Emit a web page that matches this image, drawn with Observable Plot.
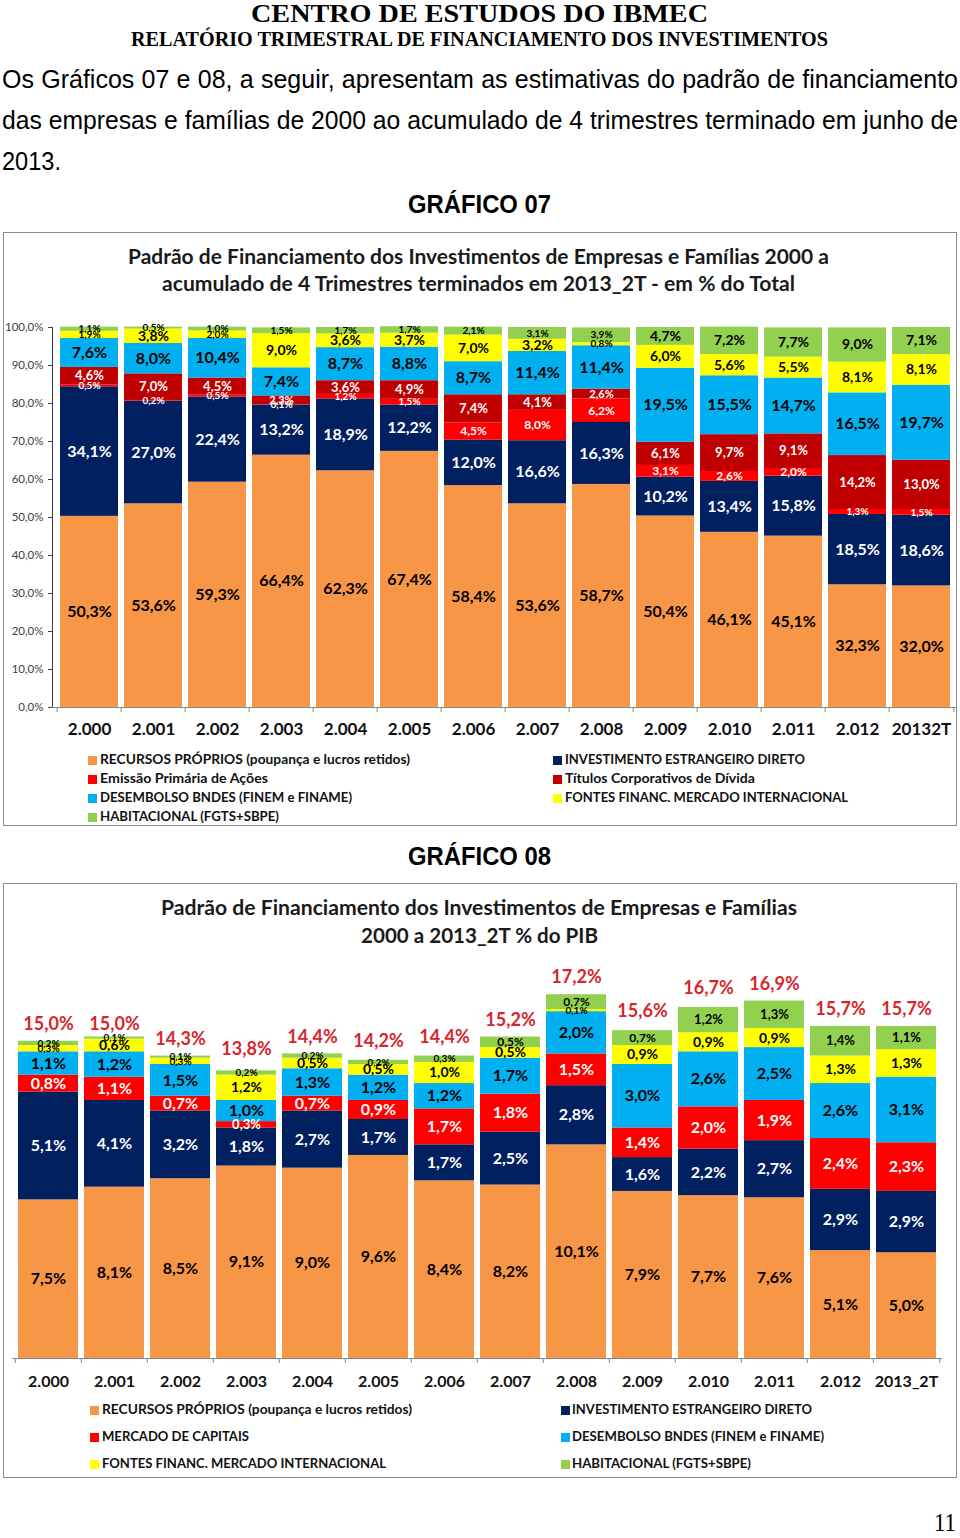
<!DOCTYPE html>
<html><head><meta charset="utf-8">
<script src="https://cdn.jsdelivr.net/npm/d3@7"></script>
<script src="https://cdn.jsdelivr.net/npm/@observablehq/plot@0.6"></script>
<style>
body{margin:0;background:#fff;}
#page{position:relative;width:960px;height:1538px;overflow:hidden;background:#fff;}
.abs{position:absolute;white-space:nowrap;}
.box{position:absolute;border:1.5px solid #8c8c8c;box-sizing:border-box;}
.sw{position:absolute;width:9px;height:9px;}
</style></head>
<body><div id="page"></div>
<script>
// ---------- DATA : GRÁFICO 07 (% do total) ----------
const years1 = ["2.000","2.001","2.002","2.003","2.004","2.005","2.006","2.007","2.008","2.009","2.010","2.011","2.012","20132T"];
const series1 = ["RECURSOS PRÓPRIOS (poupança e lucros retidos)","INVESTIMENTO ESTRANGEIRO DIRETO","Emissão Primária de Ações","Títulos Corporativos de Dívida","DESEMBOLSO BNDES (FINEM e FINAME)","FONTES FINANC. MERCADO INTERNACIONAL","HABITACIONAL (FGTS+SBPE)"];
const recursos1 = [50.3,53.6,59.3,66.4,62.3,67.4,58.4,53.6,58.7,50.4,46.1,45.1,32.3,32.0];
const ied1 = [34.1,27.0,22.4,13.2,18.9,12.2,12.0,16.6,16.3,10.2,13.4,15.8,18.5,18.6];
const acoes1 = [0.5,0.2,0.5,0.1,1.2,1.5,4.5,8.0,6.2,3.1,2.6,2.0,1.3,1.5];
const titulos1 = [4.6,7.0,4.5,2.3,3.6,4.9,7.4,4.1,2.6,6.1,9.7,9.1,14.2,13.0];
const bndes1 = [7.6,8.0,10.4,7.4,8.7,8.8,8.7,11.4,11.4,19.5,15.5,14.7,16.5,19.7];
const internacional1 = [1.9,3.8,2.0,9.0,3.6,3.7,7.0,3.2,0.8,6.0,5.6,5.5,8.1,8.1];
const habitacional1 = [1.1,0.5,1.0,1.5,1.7,1.7,2.1,3.1,3.9,4.7,7.2,7.7,9.0,7.1];
const yTicks1 = [0,10,20,30,40,50,60,70,80,90,100];

// ---------- DATA : GRÁFICO 08 (% do PIB) ----------
const years2 = ["2.000","2.001","2.002","2.003","2.004","2.005","2.006","2.007","2.008","2.009","2.010","2.011","2.012","2013_2T"];
const series2 = ["RECURSOS PRÓPRIOS (poupança e lucros retidos)","INVESTIMENTO ESTRANGEIRO DIRETO","MERCADO DE CAPITAIS","DESEMBOLSO BNDES (FINEM e FINAME)","FONTES FINANC. MERCADO INTERNACIONAL","HABITACIONAL (FGTS+SBPE)"];
const recursos2 = [7.5,8.1,8.5,9.1,9.0,9.6,8.4,8.2,10.1,7.9,7.7,7.6,5.1,5.0];
const ied2 = [5.1,4.1,3.2,1.8,2.7,1.7,1.7,2.5,2.8,1.6,2.2,2.7,2.9,2.9];
const capitais2 = [0.8,1.1,0.7,0.3,0.7,0.9,1.7,1.8,1.5,1.4,2.0,1.9,2.4,2.3];
const bndes2 = [1.1,1.2,1.5,1.0,1.3,1.2,1.2,1.7,2.0,3.0,2.6,2.5,2.6,3.1];
const internacional2 = [0.3,0.6,0.3,1.2,0.5,0.5,1.0,0.5,0.1,0.9,0.9,0.9,1.3,1.3];
const habitacional2 = [0.2,0.1,0.1,0.2,0.2,0.2,0.3,0.5,0.7,0.7,1.2,1.3,1.4,1.1];
const totais2 = [15.0,15.0,14.3,13.8,14.4,14.2,14.4,15.2,17.2,15.6,16.7,16.9,15.7,15.7];

// ---------- STYLES ----------
const colors1 = ["#F79646","#002060","#FF0000","#C00000","#00B0F0","#FFFF00","#92D050"];
const labelFill1 = ["#000","#fff","#fff","#fff","#000","#000","#000"];
const colors2 = ["#F79646","#002060","#FF0000","#00B0F0","#FFFF00","#92D050"];
const labelFill2 = ["#000","#fff","#fff","#000","#000","#000"];

const fmt = v => v.toFixed(1).replace(".", ",") + "%";

function longData(years, series, cols) {
  const out = [];
  series.forEach((s, si) => years.forEach((y, yi) => out.push({year: y, series: s, si, value: cols[si][yi]})));
  return out;
}
const long1 = longData(years1, series1, [recursos1, ied1, acoes1, titulos1, bndes1, internacional1, habitacional1]);
const long2 = longData(years2, series2, [recursos2, ied2, capitais2, bndes2, internacional2, habitacional2]);

function size1(d) {
  const v = d.value;
  switch (d.si) {
    case 0: case 1: case 4: return 16;
    case 2: return v < 2 ? 10 : 12;
    case 3: return v < 3 ? 11 : 13;
    case 5: return v < 3 ? 10 : 14;
    case 6: return v < 4 ? 10 : 14;
  }
}
function size2(d) {
  const v = d.value;
  switch (d.si) {
    case 0: case 1: case 3: return 16;
    case 2: return v < 0.5 ? 13 : 16;
    case 4: return v < 0.4 ? 10 : 14;
    case 5: return v < 0.4 ? 10 : (v < 1 ? 12 : 13);
  }
}

const page = document.getElementById("page");
const fitters = [];
const ASC = {lato: 0.887, lib: 0.846};
function put(text, o) {
  const d = document.createElement("div");
  d.className = "abs";
  d.style.left = o.x + "px";
  d.style.top = (o.base - (o.asc || ASC.lib) * o.size) + "px";
  d.style.font = `${o.weight || "normal"} ${o.size}px ${o.family}`;
  d.style.lineHeight = "1";
  d.style.color = o.color || "#000";
  d.textContent = text;
  page.appendChild(d);
  if (o.w) fitters.push([d, o.w, o.mode]);
  return d;
}
function fitAll() {
  for (const [d, w, mode] of fitters) {
    d.style.transform = ""; d.style.wordSpacing = "";
    const nat = d.getBoundingClientRect().width;
    if (mode === "justify" && nat < w) {
      const spaces = (d.textContent.match(/ /g) || []).length;
      d.style.wordSpacing = ((w - nat) / spaces) + "px";
    } else {
      d.style.transformOrigin = "0 0";
      d.style.transform = `scaleX(${w / nat})`;
    }
  }
}
function box(x, y, w, h) {
  const b = document.createElement("div");
  b.className = "box";
  Object.assign(b.style, {left: x + "px", top: y + "px", width: w + "px", height: h + "px"});
  page.appendChild(b);
}
function swatch(x, yc, color) {
  const s = document.createElement("div");
  s.className = "sw";
  Object.assign(s.style, {left: x + "px", top: (yc - 4.5) + "px", background: color});
  page.appendChild(s);
}
function mount(svg, x, y) {
  const d = document.createElement("div");
  d.className = "abs";
  d.style.left = x + "px"; d.style.top = y + "px";
  d.appendChild(svg);
  page.appendChild(d);
}

const SERIF = '"Liberation Serif", "DejaVu Serif", serif';
const NARROW = '"Liberation Sans Narrow", "Liberation Sans", Arial, sans-serif';
const LATO = 'Lato, "Open Sans", sans-serif';

// ---------- PAGE TEXT ----------
put("CENTRO DE ESTUDOS DO IBMEC", {x: 251, base: 23, size: 26, weight: "bold", family: SERIF, w: 457});
put("RELATÓRIO TRIMESTRAL DE FINANCIAMENTO DOS INVESTIMENTOS", {x: 131, base: 47, size: 21, weight: "bold", family: SERIF, w: 697});
put("Os Gráficos 07 e 08, a seguir, apresentam as estimativas do padrão de financiamento", {x: 2, base: 88, size: 25, family: NARROW, w: 956, mode: "justify"});
put("das empresas e famílias de 2000 ao acumulado de 4 trimestres terminado em junho de", {x: 2, base: 129, size: 25, family: NARROW, w: 956, mode: "justify"});
put("2013.", {x: 2, base: 170, size: 25, family: NARROW, w: 59});
put("GRÁFICO 07", {x: 408, base: 213, size: 26, weight: "bold", family: NARROW, w: 143});
put("GRÁFICO 08", {x: 408, base: 865, size: 26, weight: "bold", family: NARROW, w: 143});
put("11", {x: 934, base: 1531, size: 25, family: SERIF, w: 22});

box(3, 232, 954, 594);
box(3, 883, 954, 595);

put("Padrão de Financiamento dos Investimentos de Empresas e Famílias 2000 a", {x: 128, base: 264, size: 20, weight: "bold", family: LATO, asc: ASC.lato, w: 701, color: "#1a1a1a"});
put("acumulado de 4 Trimestres terminados em 2013_2T - em % do Total", {x: 162, base: 291, size: 20, weight: "bold", family: LATO, asc: ASC.lato, w: 633, color: "#1a1a1a"});
put("Padrão de Financiamento dos Investimentos de Empresas e Famílias", {x: 161, base: 915, size: 20, weight: "bold", family: LATO, asc: ASC.lato, w: 636, color: "#1a1a1a"});
put("2000 a 2013_2T  % do PIB", {x: 361, base: 943, size: 20, weight: "bold", family: LATO, asc: ASC.lato, w: 237, color: "#1a1a1a"});

// ---------- LEGENDS ----------
const leg1 = [
  [0, 88, 100, 760, 310], [2, 88, 100, 779, 168], [4, 88, 100, 798, 252], [6, 88, 100, 817, 179],
  [1, 553, 565, 760, 240], [3, 553, 565, 779, 190], [5, 553, 565, 798, 283]
];
for (const [si, sx, tx, yc, w] of leg1) {
  swatch(sx, yc, colors1[si]);
  put(series1[si], {x: tx, base: yc + 4.6, size: 13, weight: "bold", family: LATO, asc: ASC.lato, w, color: "#111"});
}
const leg2 = [
  [0, 90, 102, 1410, 310], [2, 90, 102, 1437, 147], [4, 90, 102, 1464, 284],
  [1, 561, 572, 1410, 240], [3, 561, 572, 1437, 252], [5, 561, 572, 1464, 179]
];
for (const [si, sx, tx, yc, w] of leg2) {
  swatch(sx, yc, colors2[si]);
  put(series2[si], {x: tx, base: yc + 4.6, size: 13, weight: "bold", family: LATO, asc: ASC.lato, w, color: "#111"});
}

// ---------- CHART 1 ----------
const ml1 = 52, mr1 = 3, pi1 = 0.1, po1 = 0.04;
const step1 = (960 - ml1 - mr1) / (years1.length - pi1 + 2 * po1);
const lastYear1 = [years1[years1.length - 1]];
const chart1 = Plot.plot({
  width: 960, height: 430,
  marginTop: 15, marginBottom: 35, marginLeft: ml1, marginRight: mr1,
  style: {background: "transparent", fontFamily: "Lato, sans-serif", fontSize: "11.5px", color: "#404040", overflow: "visible"},
  x: {domain: years1, axis: null, paddingInner: pi1, paddingOuter: po1},
  y: {domain: [0, 100], ticks: yTicks1, tickFormat: d => d.toFixed(1).replace(".", ",") + "%", tickSize: 4, tickPadding: 5, line: true, label: null},
  color: {domain: series1, range: colors1},
  marks: [
    Plot.barY(long1, {x: "year", y: "value", fill: "series"}),
    Plot.text(long1, Plot.stackY({x: "year", y: "value", z: "series", text: d => labelFill1[d.si] === "#fff" ? fmt(d.value) : null, fill: "#fff", fontSize: size1, fontWeight: "bold"})),
    Plot.text(long1, Plot.stackY({x: "year", y: "value", z: "series", text: d => labelFill1[d.si] === "#000" ? fmt(d.value) : null, fill: "#000", fontSize: size1, fontWeight: "bold"})),
    Plot.ruleY([0], {stroke: "#868686"}),
    Plot.ruleX(years1, {x: d => d, dx: -step1 / 2, y1: 0, y2: -1.3, stroke: "#868686"}),
    Plot.ruleX(lastYear1, {x: d => d, dx: step1 / 2, y1: 0, y2: -1.3, stroke: "#868686"}),
    Plot.text(years1, {x: d => d, y: 0, dy: 22, text: d => d, fontSize: 17, fontWeight: "bold", fill: "#111"})
  ]
});
mount(chart1, 0, 312);

// ---------- CHART 2 ----------
const ml2 = 12, mr2 = 18, pi2 = 0.09, po2 = 0.035;
const step2 = (960 - ml2 - mr2) / (years2.length - pi2 + 2 * po2);
const lastYear2 = [years2[years2.length - 1]];
const totalsData = years2.map((y, i) => ({year: y, total: totais2[i]}));
const chart2 = Plot.plot({
  width: 960, height: 480,
  marginTop: 15, marginBottom: 42, marginLeft: ml2, marginRight: mr2,
  style: {background: "transparent", fontFamily: "Lato, sans-serif", fontSize: "11px", color: "#404040", overflow: "visible"},
  x: {domain: years2, axis: null, paddingInner: pi2, paddingOuter: po2},
  y: {domain: [0, 20], axis: null},
  color: {domain: series2, range: colors2},
  marks: [
    Plot.barY(long2, {x: "year", y: "value", fill: "series"}),
    Plot.text(long2, Plot.stackY({x: "year", y: "value", z: "series", text: d => labelFill2[d.si] === "#fff" ? fmt(d.value) : null, fill: "#fff", fontSize: size2, fontWeight: "bold"})),
    Plot.text(long2, Plot.stackY({x: "year", y: "value", z: "series", text: d => labelFill2[d.si] === "#000" ? fmt(d.value) : null, fill: "#000", fontSize: size2, fontWeight: "bold"})),
    Plot.text(totalsData, {x: "year", y: "total", dy: -17, text: d => fmt(d.total), fill: "#D7262B", fontSize: 18, fontWeight: "bold"}),
    Plot.ruleY([0], {stroke: "#868686"}),
    Plot.ruleX(years2, {x: d => d, dx: -step2 / 2, y1: 0, y2: -0.24, stroke: "#868686"}),
    Plot.ruleX(lastYear2, {x: d => d, dx: step2 / 2, y1: 0, y2: -0.24, stroke: "#868686"}),
    Plot.text(years2, {x: d => d, y: 0, dy: 23, text: d => d, fontSize: 16, fontWeight: "bold", fill: "#111"})
  ]
});
mount(chart2, 0, 920);

fitAll();
if (document.fonts && document.fonts.ready) document.fonts.ready.then(fitAll);
</script>
</body></html>
